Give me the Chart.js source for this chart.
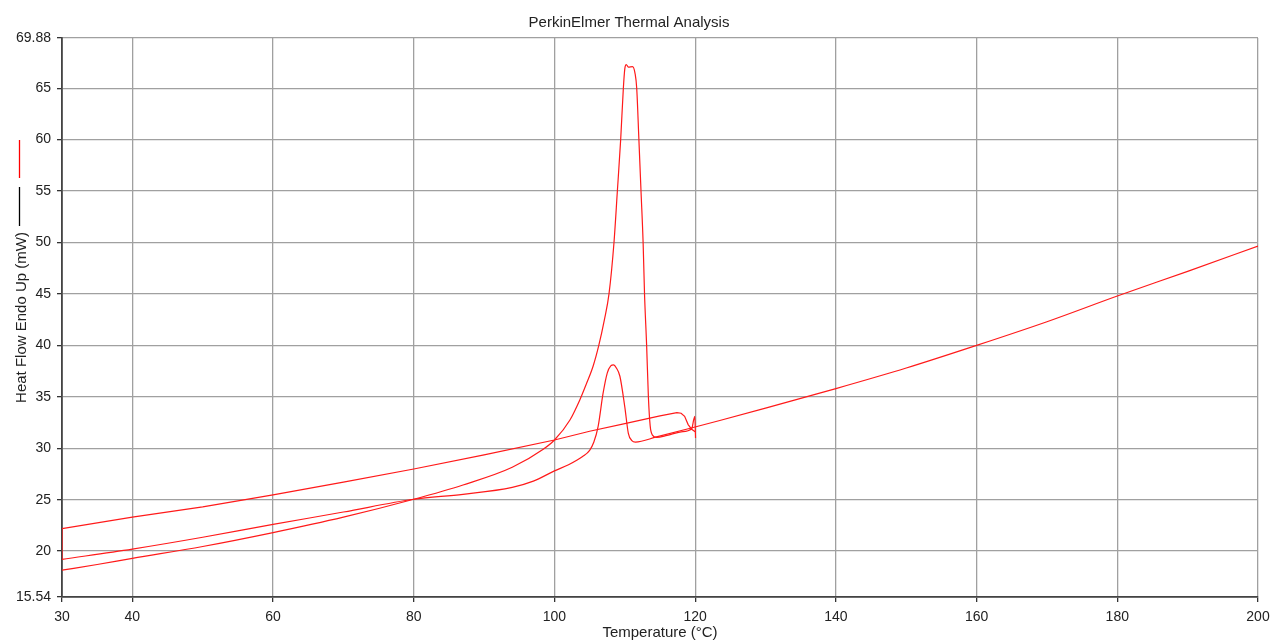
<!DOCTYPE html>
<html>
<head>
<meta charset="utf-8">
<title>PerkinElmer Thermal Analysis</title>
<script src="https://cdn.jsdelivr.net/npm/chart.js@4.4.1/dist/chart.umd.min.js"></script>
<style>
  html, body { margin:0; padding:0; background:#fff; }
  #dsc { display:block; }
</style>
</head>
<body>
<canvas id="dsc" width="1272" height="644"></canvas>
<script>
// axis ticks
const xTicks = [30, 40, 60, 80, 100, 120, 140, 160, 180, 200];
const yTicks = [15.54, 20, 25, 30, 35, 40, 45, 50, 55, 60, 65, 69.88];

// 1st heating 30 -> 120 (big melt peak)
const heat1Temp = [30, 35, 40, 50, 60, 70, 80, 87, 94, 98.4, 100, 102.2, 103.6, 104.5, 105.5, 106.3, 107.1, 107.75,
  108.46, 108.94, 109.41, 109.79, 110.0, 110.2, 110.5, 111.1, 111.45, 111.69, 112.0, 112.3, 112.6, 112.8, 113.1,
  113.35, 113.6, 113.9, 114.5, 116, 118, 119.5, 119.8, 119.95, 120.05];
const heat1Flow = [18.15, 18.7, 19.3, 20.45, 21.8, 23.3, 25.04, 26.43, 28.15, 29.9, 30.8, 32.75, 34.7, 36.2, 38.0, 40.0, 42.5, 45,
  50, 55, 60, 65, 66.9, 67.3, 67.05, 67.1, 66.45, 65, 60, 55, 50, 45, 40,
  35, 32.2, 31.3, 31.05, 31.25, 31.6, 31.9, 32.8, 33.1, 31.0];

// cooling 120 -> 30
const coolTemp = [120, 119.5, 119, 118.5, 118, 117.4, 115, 110, 105, 100, 90, 80, 70, 60, 50, 40, 30, 30];
const coolFlow = [31.6, 31.85, 32.3, 33.1, 33.4, 33.46, 33.15, 32.4, 31.65, 30.8, 29.35, 27.98, 26.7, 25.46, 24.3, 23.3, 22.18, 19.2];

// 2nd heating 30 -> 200 (small melt peak)
const heat2Temp = [30, 40, 50, 60, 70, 80, 87, 94, 97, 100, 102, 104, 105, 105.6, 106.2, 106.9, 107.5, 108.0, 108.4,
  108.8, 109.3, 110.0, 110.5, 111.0, 111.5, 114.5, 119.3, 123.5, 130, 140, 150, 160, 170, 180, 190, 200];
const heat2Flow = [19.2, 20.2, 21.35, 22.6, 23.8, 25.04, 25.52, 26.2, 26.8, 27.8, 28.4, 29.2, 29.8, 30.6, 32.1, 35.3, 37.3, 38.0, 38.1,
  37.8, 37.0, 34.0, 31.45, 30.75, 30.6, 31.1, 31.94, 32.7, 33.9, 35.8, 37.8, 40.0, 42.3, 44.8, 47.2, 49.65];

(function(){
  const FONT = '"Liberation Sans", Arial, sans-serif';
  const TXT = '#222';

  function pts(xs, ys) {
    return xs.map((x, i) => ({ x, y: ys[i] }));
  }

  function series(label, xs, ys, smooth) {
    return {
      label,
      data: pts(xs, ys),
      showLine: true,
      borderColor: '#ff1a1a',
      borderWidth: 1.2,
      pointRadius: 0,
      tension: 0,
      cubicInterpolationMode: smooth ? 'monotone' : 'default',
      fill: false
    };
  }

  // small red / black strokes left of the y title
  const sideMarks = {
    id: 'sideMarks',
    afterDraw(chart) {
      const c = chart.ctx;
      c.save();
      c.lineWidth = 1.3;
      c.strokeStyle = '#ff0000';
      c.beginPath(); c.moveTo(19.5, 140); c.lineTo(19.5, 178); c.stroke();
      c.strokeStyle = '#000';
      c.beginPath(); c.moveTo(19.5, 187); c.lineTo(19.5, 226); c.stroke();
      c.restore();
    }
  };

  function init() {
    const ctx = document.getElementById('dsc').getContext('2d');
    new Chart(ctx, {
      type: 'scatter',
      data: {
        datasets: [
          series('Heat 1', heat1Temp, heat1Flow, true),
          series('Cool', coolTemp, coolFlow, false),
          series('Heat 2', heat2Temp, heat2Flow, true)
        ]
      },
      options: {
        responsive: false,
        animation: false,
        devicePixelRatio: 1,
        layout: { padding: { top: 0, right: 14, bottom: 0, left: 0 } },
        plugins: {
          legend: { display: false },
          tooltip: { enabled: false },
          title: {
            display: true,
            text: 'PerkinElmer Thermal Analysis',
            color: TXT,
            font: { family: FONT, size: 15, weight: 'normal' },
            padding: { top: 13.8, bottom: 6.2 }
          }
        },
        scales: {
          x: {
            type: 'linear',
            min: 30,
            max: 200,
            afterBuildTicks: s => { s.ticks = xTicks.map(v => ({ value: v })); },
            afterFit: s => { s.height = 47; s.paddingRight = 0; s.paddingLeft = 0; },
            ticks: {
              color: TXT, font: { family: FONT, size: 14 }, padding: 7,
              maxRotation: 0, autoSkip: false,
              callback: v => String(v)
            },
            grid: { color: '#a0a0a0', lineWidth: 1.3, tickColor: '#333', tickLength: 5 },
            border: { color: '#444', width: 1.8 },
            title: {
              display: true, text: 'Temperature (°C)', color: TXT,
              font: { family: FONT, size: 15 }, padding: { top: 0, bottom: 2 }
            }
          },
          y: {
            type: 'linear',
            min: 15.54,
            max: 69.88,
            afterBuildTicks: s => { s.ticks = yTicks.map(v => ({ value: v })); },
            afterFit: s => { s.width = 62; },
            ticks: {
              color: TXT, font: { family: FONT, size: 14 }, padding: 6,
              autoSkip: false,
              callback: v => String(v)
            },
            grid: { color: '#a0a0a0', lineWidth: 1.3, tickColor: '#333', tickLength: 5 },
            border: { color: '#444', width: 1.8 },
            title: {
              display: true, text: 'Heat Flow Endo Up (mW)', color: TXT,
              font: { family: FONT, size: 15 }, padding: { top: 12.5, bottom: 0 }
            }
          }
        }
      },
      plugins: [sideMarks]
    });
  }
  document.addEventListener('DOMContentLoaded', init);
})();
</script>
</body>
</html>
